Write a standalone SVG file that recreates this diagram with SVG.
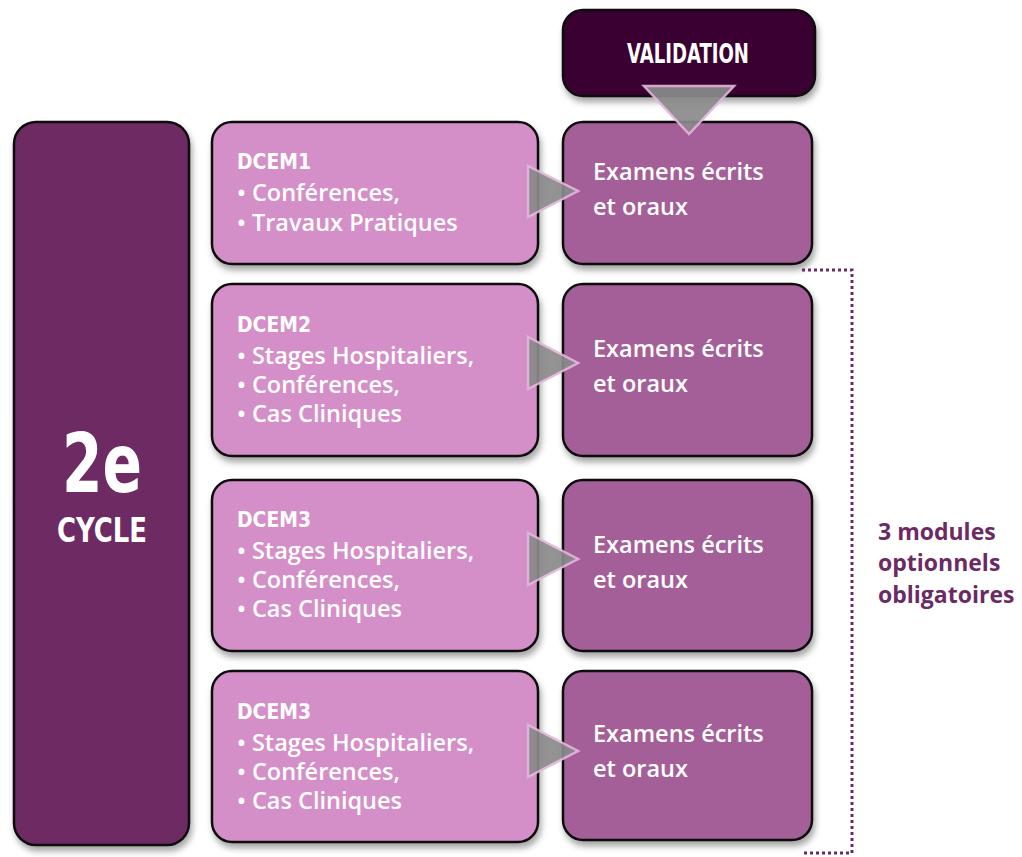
<svg xmlns="http://www.w3.org/2000/svg" width="1022" height="857" viewBox="0 0 1022 857">
<defs>
<filter id="sh" x="-10%" y="-10%" width="130%" height="130%">
<feDropShadow dx="2" dy="5" stdDeviation="3" flood-color="#000" flood-opacity="0.35"/>
</filter>
</defs>
<style>
.box{stroke:#111;stroke-width:2.5;filter:url(#sh)}
.cyc{fill:#6e2a62}
.dcem{fill:#d58fc8}
.exam{fill:#a55e98}
.val{fill:#3a0030}
.tri{fill:#8a8a8a;stroke:#e3b6da;stroke-width:2.5;stroke-linejoin:miter;opacity:0.92}
.hd{font-family:"DejaVu Sans Condensed","DejaVu Sans",sans-serif;font-weight:bold;fill:#fff}
.tx{font-family:"Open Sans",Lato,sans-serif;font-weight:600;fill:#fff;font-size:23.5px}
.side{font-family:"Open Sans",Lato,sans-serif;font-weight:bold;fill:#6b2a63;font-size:23px}
.dot{fill:none;stroke:#6b2a63;stroke-width:3;stroke-dasharray:3 3}
</style>
<g id="cycle">
<rect class="box cyc" x="14" y="122" width="175" height="723" rx="22"/>
<text class="hd" x="62" y="492" font-size="82" textLength="80" lengthAdjust="spacingAndGlyphs">2e</text>
<text class="hd" x="57" y="542" font-size="33" textLength="90" lengthAdjust="spacingAndGlyphs">CYCLE</text>
</g>
<g id="validation">
<rect class="box val" x="563" y="10" width="252" height="86" rx="20"/>
<text class="hd" x="627" y="63" font-size="27" textLength="122" lengthAdjust="spacingAndGlyphs">VALIDATION</text>
</g>
<g id="dcem1">
<rect class="box dcem" x="212" y="122" width="326" height="142" rx="20"/>
<text class="hd" x="237" y="169" font-size="22" textLength="74" lengthAdjust="spacingAndGlyphs">DCEM1</text>
<text class="tx" x="237" y="201">• Conférences,</text>
<text class="tx" x="237" y="231">• Travaux Pratiques</text>
</g>
<g id="dcem2">
<rect class="box dcem" x="212" y="284" width="326" height="172" rx="20"/>
<text class="hd" x="237" y="332" font-size="22" textLength="74" lengthAdjust="spacingAndGlyphs">DCEM2</text>
<text class="tx" x="237" y="364">• Stages Hospitaliers,</text>
<text class="tx" x="237" y="393">• Conférences,</text>
<text class="tx" x="237" y="422">• Cas Cliniques</text>
</g>
<g id="dcem3a">
<rect class="box dcem" x="212" y="480" width="326" height="171" rx="20"/>
<text class="hd" x="237" y="527" font-size="22" textLength="74" lengthAdjust="spacingAndGlyphs">DCEM3</text>
<text class="tx" x="237" y="559">• Stages Hospitaliers,</text>
<text class="tx" x="237" y="588">• Conférences,</text>
<text class="tx" x="237" y="617">• Cas Cliniques</text>
</g>
<g id="dcem3b">
<rect class="box dcem" x="212" y="671" width="326" height="171" rx="20"/>
<text class="hd" x="237" y="719" font-size="22" textLength="74" lengthAdjust="spacingAndGlyphs">DCEM3</text>
<text class="tx" x="237" y="751">• Stages Hospitaliers,</text>
<text class="tx" x="237" y="780">• Conférences,</text>
<text class="tx" x="237" y="809">• Cas Cliniques</text>
</g>
<g id="exam1">
<rect class="box exam" x="563" y="122" width="249" height="142" rx="20"/>
<text class="tx" x="593" y="180">Examens écrits</text>
<text class="tx" x="593" y="215">et oraux</text>
</g>
<g id="exam2">
<rect class="box exam" x="563" y="284" width="249" height="172" rx="20"/>
<text class="tx" x="593" y="357">Examens écrits</text>
<text class="tx" x="593" y="392">et oraux</text>
</g>
<g id="exam3">
<rect class="box exam" x="563" y="480" width="249" height="171" rx="20"/>
<text class="tx" x="593" y="553">Examens écrits</text>
<text class="tx" x="593" y="588">et oraux</text>
</g>
<g id="exam4">
<rect class="box exam" x="563" y="671" width="249" height="169" rx="20"/>
<text class="tx" x="593" y="742">Examens écrits</text>
<text class="tx" x="593" y="777">et oraux</text>
</g>
<g id="connectors">
<polygon class="tri" points="644,86 734,86 689,134"/>
<polygon class="tri" points="528,166 528,217 578,191"/>
<polygon class="tri" points="528,337 528,389 578,363"/>
<polygon class="tri" points="528,533 528,585 578,559"/>
<polygon class="tri" points="528,725 528,777 578,751"/>
<polyline class="dot" points="802,270 852,270 852,853 802,853"/>
</g>
<g id="note">
<text class="side" x="878" y="540">3 modules</text>
<text class="side" x="878" y="571">optionnels</text>
<text class="side" x="878" y="603">obligatoires</text>
</g>
</svg>
